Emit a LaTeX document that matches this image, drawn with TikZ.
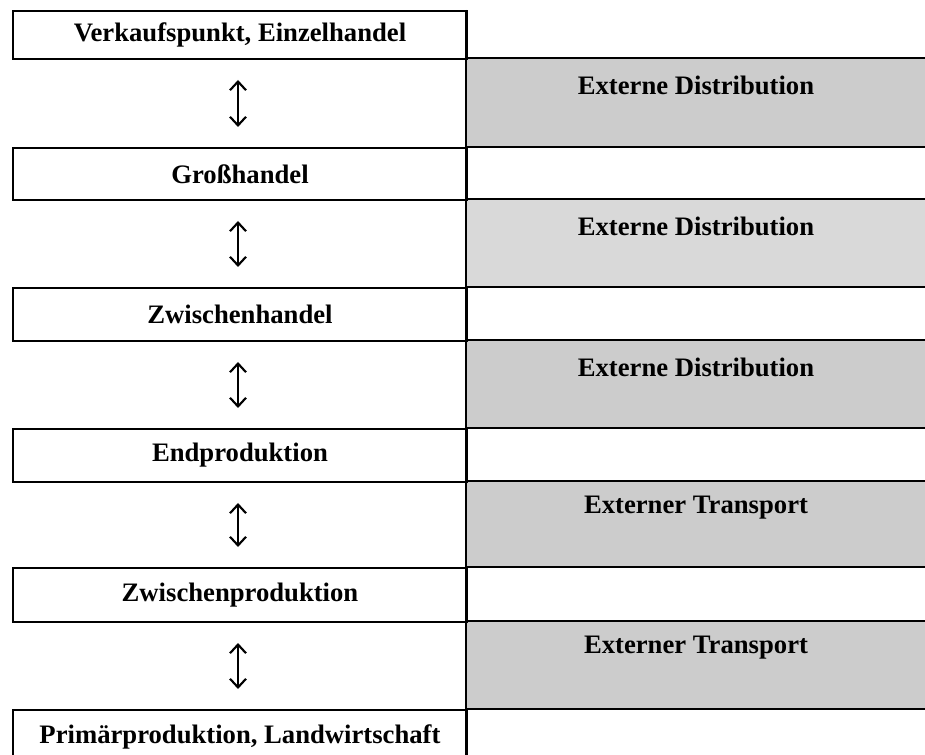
\documentclass[tikz,border=0pt]{standalone}
\usepackage{fontspec}
\setmainfont{Liberation Serif}
\usetikzlibrary{arrows.meta}
\definecolor{graydark}{HTML}{CCCCCC}
\definecolor{graylight}{HTML}{D9D9D9}
\begin{document}
\begin{tikzpicture}[x=0.75pt,y=-0.75pt,
  lbl/.style={font=\fontsize{20}{22}\selectfont\bfseries},
  stagebox/.style={draw, line width=1.5pt, lbl, minimum width=340.5pt, anchor=north west, inner sep=0pt},
  gridline/.style={line width=1.5pt},
  darr/.style={line width=1.4pt, shorten <=15pt, shorten >=15pt,
    {Straight Barb[length=6.5pt,width=12pt,line width=1.6pt]}-{Straight Barb[length=6.5pt,width=12pt,line width=1.6pt]}}]
\useasboundingbox (0,0) rectangle (925,755);
\clip (0,0) rectangle (925,755);
% gray bands
\fill[graydark]  (466,58)  rectangle (925,147);
\fill[graylight] (466,199) rectangle (925,287);
\fill[graydark]  (466,340) rectangle (925,428);
\fill[graydark]  (466,481) rectangle (925,567);
\fill[graydark]  (466,621) rectangle (925,709);
% left boxes
\node[stagebox, minimum height=36pt] (b1) at (12,10)  {Verkaufspunkt, Einzelhandel};
\node[stagebox, minimum height=39pt] (b2) at (12,147) {Großhandel};
\node[stagebox, minimum height=39.75pt] (b3) at (12,287) {Zwischenhandel};
\node[stagebox, minimum height=39.75pt] (b4) at (12,428) {Endproduktion};
\node[stagebox, minimum height=40.5pt] (b5) at (12,567) {Zwischenproduktion};
\node[stagebox, minimum height=40.5pt] (b6) at (12,709) {Primärproduktion, Landwirtschaft};
% grid lines on the right
\draw[gridline] (466,10) -- (466,760);
\foreach \yy in {58,147,199,287,340,428,481,567,621,709}
  \draw[gridline] (466,\yy) -- (930,\yy);
% right labels
\node[lbl] (e1) at (696,85)  {Externe Distribution};
\node[lbl] (e2) at (696,226) {Externe Distribution};
\node[lbl] (e3) at (696,367) {Externe Distribution};
\node[lbl] (e4) at (696,508) {Externer Transport};
\node[lbl] (e5) at (696,648) {Externer Transport};
% arrows
\draw[darr] (b1.south -| 238,0) -- (b2.north -| 238,0);
\draw[darr] (b2.south -| 238,0) -- (b3.north -| 238,0);
\draw[darr] (b3.south -| 238,0) -- (b4.north -| 238,0);
\draw[darr] (b4.south -| 238,0) -- (b5.north -| 238,0);
\draw[darr] (b5.south -| 238,0) -- (b6.north -| 238,0);
\end{tikzpicture}
\end{document}
